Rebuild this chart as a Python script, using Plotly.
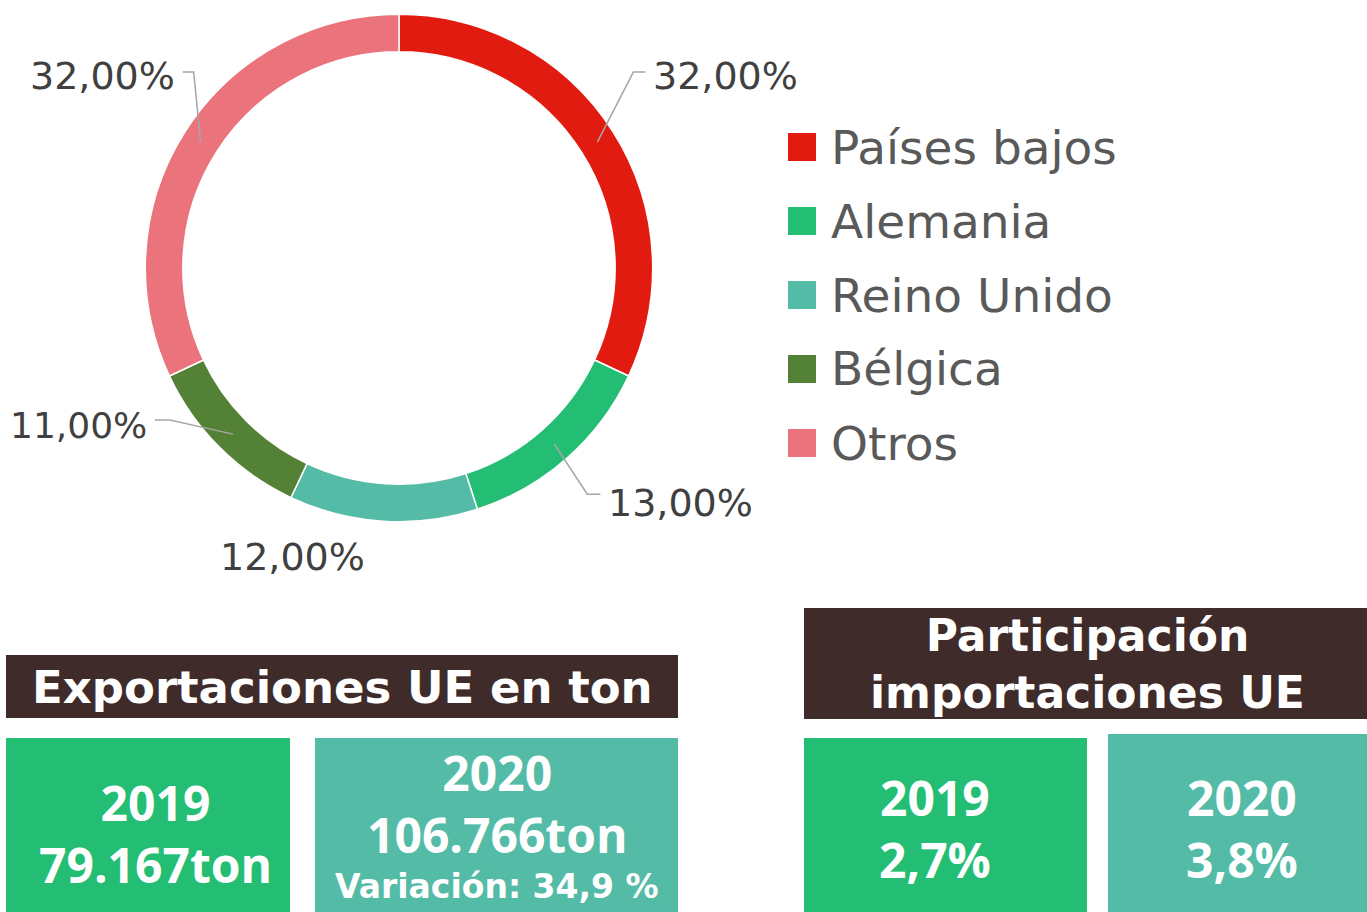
import math
import plotly.graph_objects as go

W, H = 1367, 912

paises = ["Países bajos", "Alemania", "Reino Unido", "Bélgica", "Otros"]
participacion = [32, 13, 12, 11, 32]
colores = ["#E21B10", "#23BD74", "#54BBA6", "#538135", "#EB737C"]

export_titulo = "Exportaciones UE en ton"
export_2019 = ["2019", "79.167ton"]
export_2020 = ["2020", "106.766ton"]
variacion = "Variación: 34,9 %"
import_titulo = ["Participación", "importaciones UE"]
import_2019 = ["2019", "2,7%"]
import_2020 = ["2020", "3,8%"]

FONT = "DejaVu Sans, sans-serif"
NUMFONT = "Open Sans, DejaVu Sans, sans-serif"


def px(x):
    return x / W


def py(y):
    return 1 - y / H


# pie geometry (pixels)
cx, cy, R = 399, 268, 253.7
hole = 0.852

fig = go.Figure()
fig.add_trace(go.Pie(
    labels=paises, values=participacion, sort=False, direction="clockwise",
    hole=hole, marker=dict(colors=colores, line=dict(color="white", width=1.5)),
    textinfo="none", hoverinfo="label+percent", showlegend=False,
    domain=dict(x=[px(cx - R), px(cx + R)], y=[py(cy + R), py(cy - R)]),
))

shapes = []
annotations = []

# outside labels with leader lines
total = sum(participacion)
acc = 0
rmid = R * (1 + hole) / 2
# (elbow dx, elbow dy, horizontal stub, label side, label dy) per slice
leader = [(36, -70, 12, "right", 4), (33, 50, 13, "right", 9), None,
          (-63, -14, -15, "left", 5), (-7, -70, -11, "left", 4)]
for i, v in enumerate(participacion):
    mid = (acc + v / 2) / total * 2 * math.pi
    acc += v
    x0 = cx + rmid * math.sin(mid)
    y0 = cy - rmid * math.cos(mid)
    txt = f"{v / total * 100:.2f}".replace(".", ",") + "%"
    size = 38 if v != 11 else 36
    lead = leader[i]
    if lead is None:
        annotations.append(dict(x=px(x0 - 92), y=py(y0 + 55), text=txt, showarrow=False,
                                xanchor="center", yanchor="middle",
                                font=dict(family=FONT, size=size, color="#404040")))
        continue
    ex, ey, stub, side, tdy = lead
    x1, y1 = x0 + ex, y0 + ey
    x2 = x1 + stub
    shapes.append(dict(type="path", xref="paper", yref="paper",
                       path=f"M {px(x0)},{py(y0)} L {px(x1)},{py(y1)} L {px(x2)},{py(y1)}",
                       line=dict(color="#A6A6A6", width=1.5)))
    if side == "right":
        annotations.append(dict(x=px(x2 + 6), y=py(y1 + tdy), text=txt, showarrow=False,
                                xanchor="left", yanchor="middle",
                                font=dict(family=FONT, size=size, color="#404040")))
    else:
        annotations.append(dict(x=px(x2 - 6), y=py(y1 + tdy), text=txt, showarrow=False,
                                xanchor="right", yanchor="middle",
                                font=dict(family=FONT, size=size, color="#404040")))

# legend
for i, (name, col) in enumerate(zip(paises, colores)):
    yc = 147 + i * 74
    shapes.append(dict(type="rect", xref="paper", yref="paper",
                       x0=px(788), x1=px(816), y0=py(yc + 14), y1=py(yc - 14),
                       fillcolor=col, line=dict(width=0)))
    annotations.append(dict(x=px(829), y=py(yc), text=name, showarrow=False,
                            xanchor="left", yanchor="middle",
                            font=dict(family=FONT, size=47, color="#595959")))


def box(x0, y0, x1, y1, col):
    shapes.append(dict(type="rect", xref="paper", yref="paper", layer="below",
                       x0=px(x0), x1=px(x1), y0=py(y1), y1=py(y0),
                       fillcolor=col, line=dict(width=0)))


def label(x, y, lines, size, family=FONT):
    text = "<br>".join(f"<b>{t}</b>" for t in lines)
    annotations.append(dict(x=px(x), y=py(y), text=text, showarrow=False,
                            xanchor="center", yanchor="middle", borderpad=0,
                            font=dict(family=family, size=size, color="white")))


HEAD = "#3F2C2A"
GREEN = "#23BD74"
TEAL = "#54BBA6"

box(6, 655, 678, 718, HEAD)
label(342, 687, [export_titulo], 45)
box(6, 738, 290, 912, GREEN)
label(155, 833, export_2019, 48, NUMFONT)
box(315, 738, 678, 912, TEAL)
label(497, 803, export_2020, 48, NUMFONT)
label(497, 886, [variacion], 33)

box(804, 608, 1367, 719, HEAD)
label(1087, 664, import_titulo, 44)
box(804, 738, 1087, 912, GREEN)
label(935, 828, import_2019, 48, NUMFONT)
box(1108, 734, 1367, 912, TEAL)
label(1242, 828, import_2020, 48, NUMFONT)

fig.update_layout(
    width=W, height=H, margin=dict(l=0, r=0, t=0, b=0),
    paper_bgcolor="white", plot_bgcolor="white",
    shapes=shapes, annotations=annotations,
)

fig.write_html("out.html", config={"displayModeBar": False},
               post_script="document.body.style.margin='0';document.body.style.overflow='hidden';")
